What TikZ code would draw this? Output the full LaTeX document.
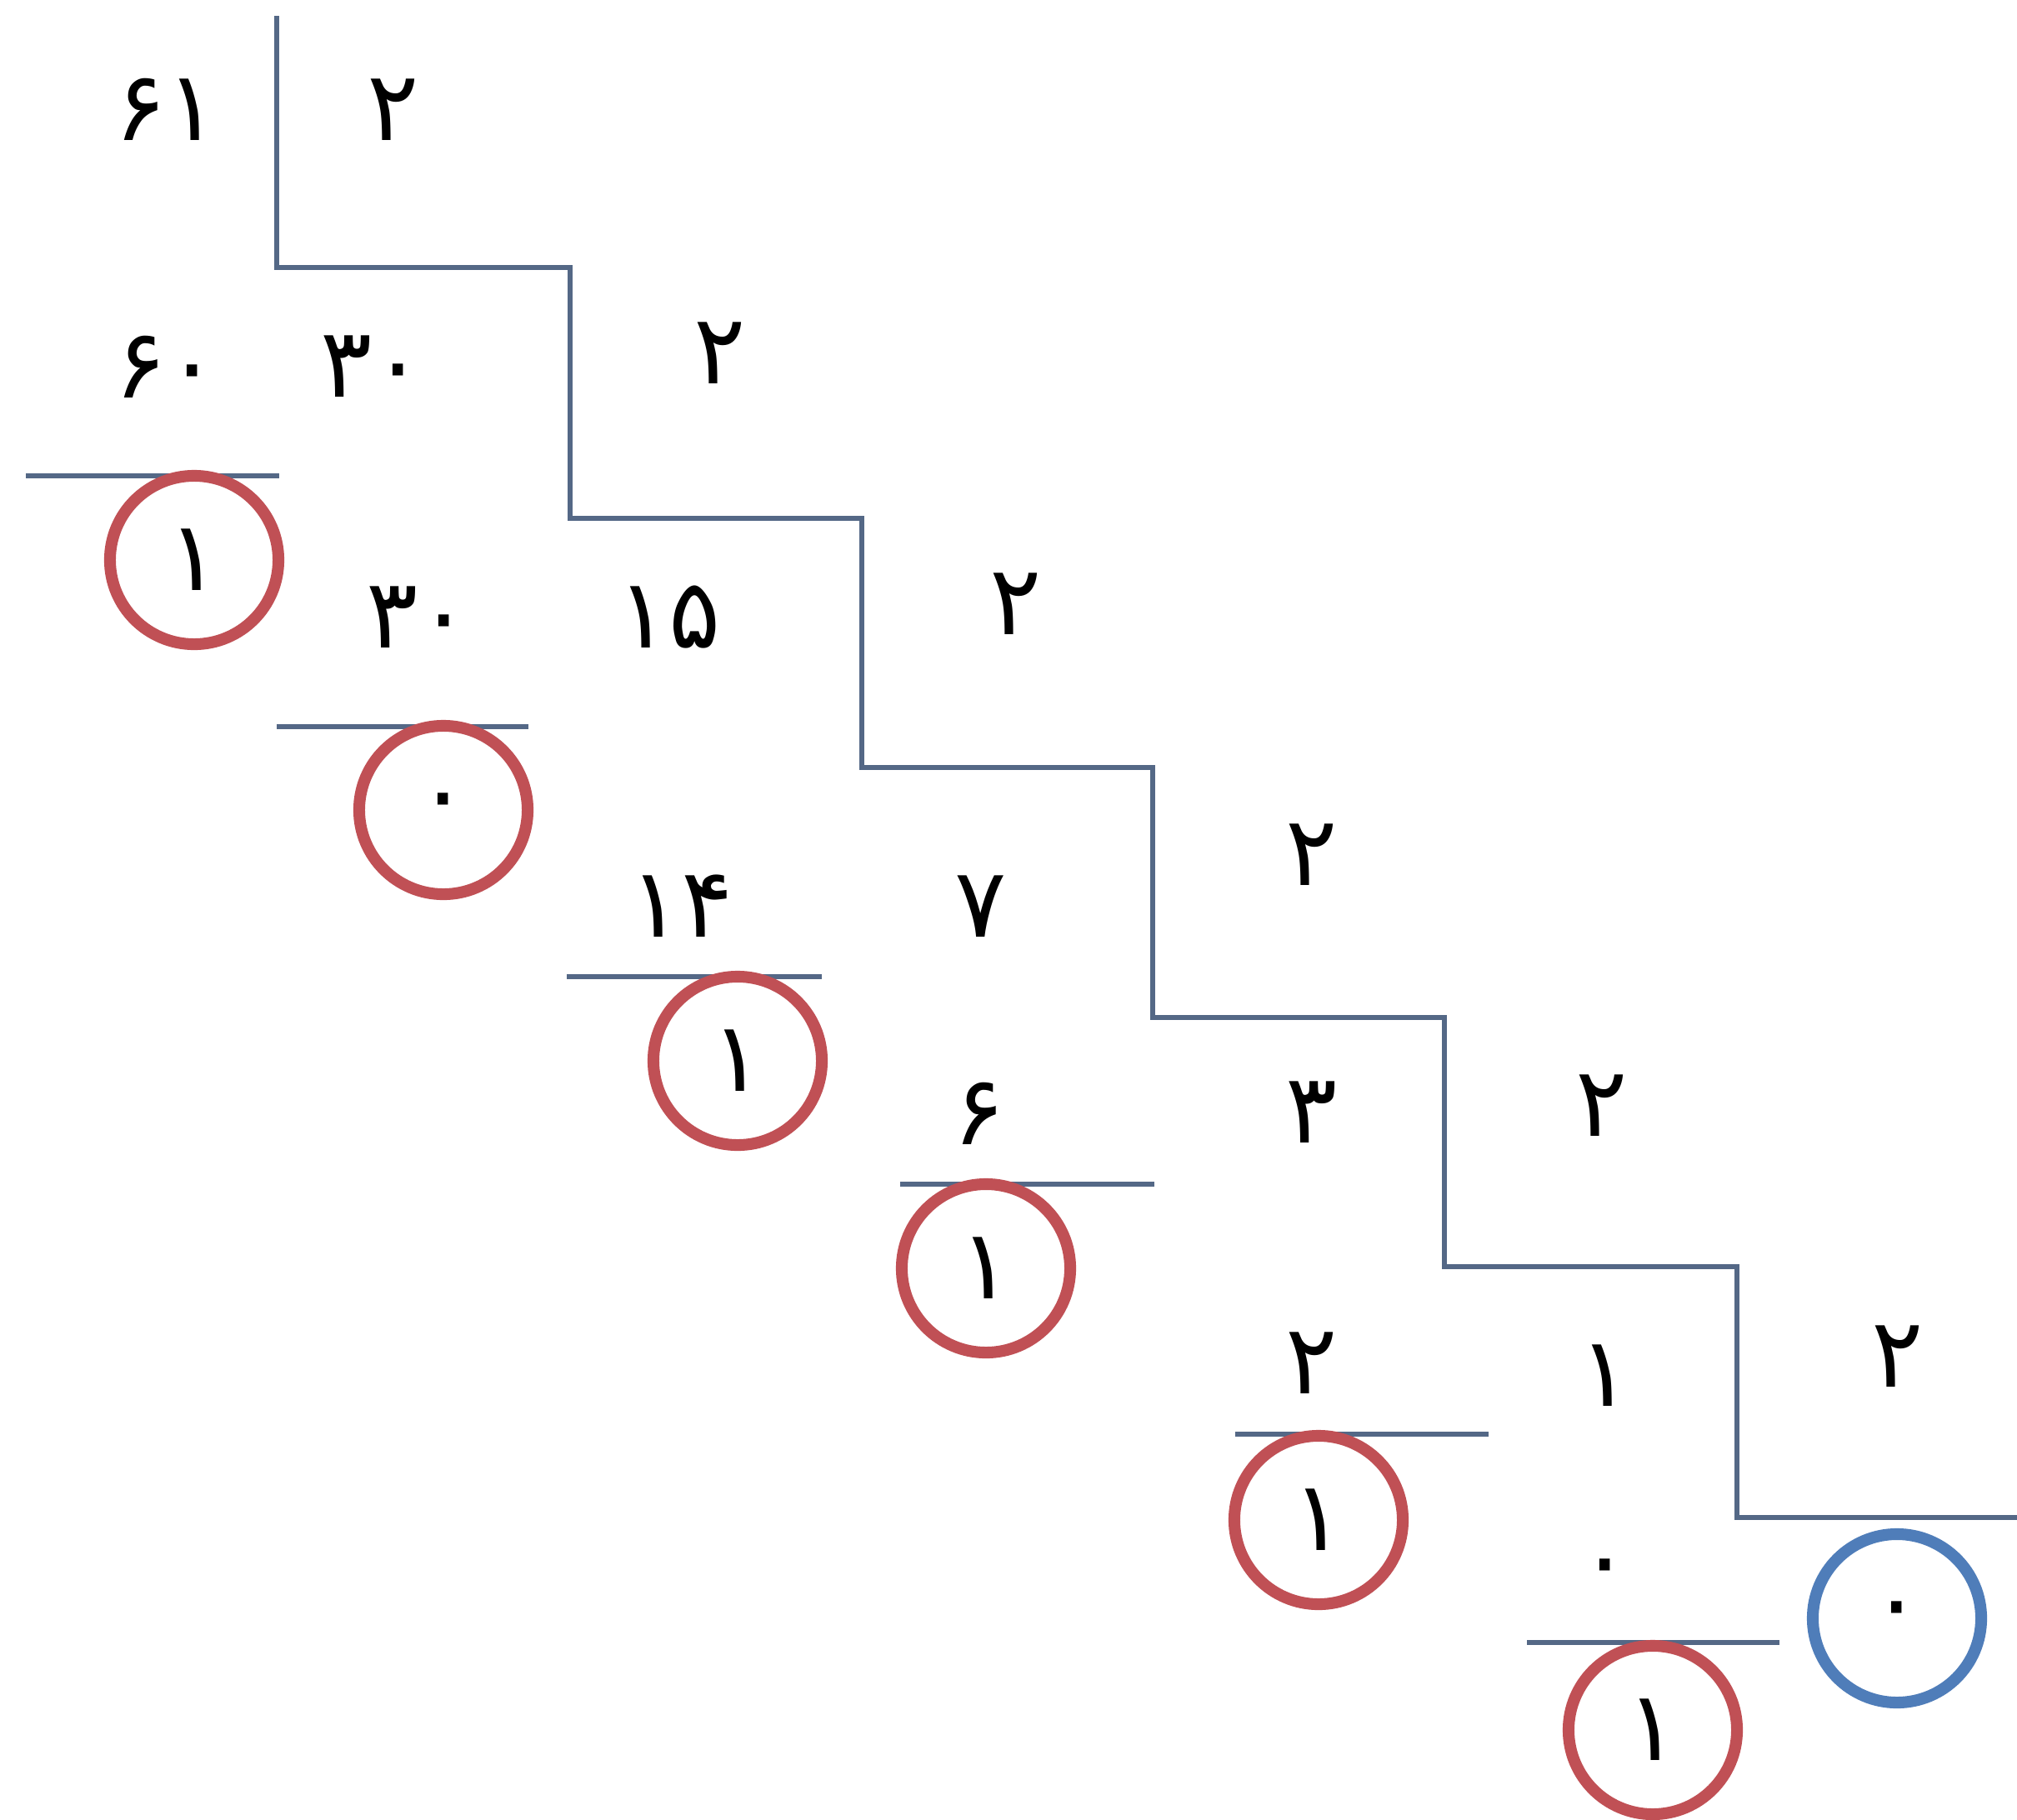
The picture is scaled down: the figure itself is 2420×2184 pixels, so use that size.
\documentclass[tikz,border=0pt]{standalone}
\usepackage{fontspec}
\newfontfamily\fa[Script=Arabic]{DejaVu Sans}
\definecolor{stair}{RGB}{84,104,134}
\definecolor{remred}{RGB}{192,80,85}
\definecolor{remblue}{RGB}{79,125,185}
\begin{document}
\begin{tikzpicture}[x=0.01cm,y=-0.01cm,
  num/.style={inner sep=0pt,font=\fa\fontsize{33}{40}\selectfont},
  rem/.style={circle,draw=remred,line width=4pt,minimum size=2.02cm,inner sep=0pt,font=\fa\fontsize{33}{40}\selectfont},
  lastrem/.style={rem,draw=remblue},
  stairline/.style={draw=stair,line width=1.5pt},
  underline/.style={draw=stair,line width=1.6pt}]
\useasboundingbox (0,0) rectangle (2420,2184);
% staircase
\draw[stairline] (332,19) -- (332,321) -- (684,321) -- (684,622) -- (1034,622) -- (1034,921)
  -- (1383,921) -- (1383,1221) -- (1733,1221) -- (1733,1520) -- (2084,1520) -- (2084,1821) -- (2420,1821);
% row 0
\node[num] (a0) at (200,131) {۶۱};
\node[num] (d0) at (472,132) {۲};
% row 1
\node[num] (p1) at (200,440) {۶۰};
\node[num] (q1) at (447,440) {۳۰};
\node[num] (d1) at (864,424) {۲};
\draw[underline] (31,571) -- (335,571);
\node[rem] (r1) at (233,672) {۱};
% row 2
\node[num] (p2) at (502,741) {۳۰};
\node[num] (q2) at (803,741) {۱۵};
\node[num] (d2) at (1219,725) {۲};
\draw[underline] (332,872) -- (634,872);
\node[rem] (r2) at (532,972) {۰};
% row 3
\node[num] (p3) at (818,1087) {۱۴};
\node[num] (q3) at (1177,1088) {۷};
\node[num] (d3) at (1574,1026) {۲};
\draw[underline] (680,1172) -- (986,1172);
\node[rem] (r3) at (885,1273) {۱};
% row 4
\node[num] (p4) at (1175,1336) {۶};
\node[num] (q4) at (1574,1335) {۳};
\node[num] (d4) at (1922,1327) {۲};
\draw[underline] (1080,1421) -- (1385,1421);
\node[rem] (r4) at (1183,1522) {۱};
% row 5
\node[num] (p5) at (1574,1636) {۲};
\node[num] (q5) at (1926,1651) {۱};
\node[num] (d5) at (2277,1628) {۲};
\draw[underline] (1482,1721) -- (1786,1721);
\node[rem] (r5) at (1582,1824) {۱};
% row 6
\node[num] (p6) at (1926,1891) {۰};
\draw[underline] (1832,1971) -- (2135,1971);
\node[rem] (r6) at (1983,2076) {۱};
\node[lastrem] (r7) at (2276,1942) {۰};
\end{tikzpicture}
\end{document}
